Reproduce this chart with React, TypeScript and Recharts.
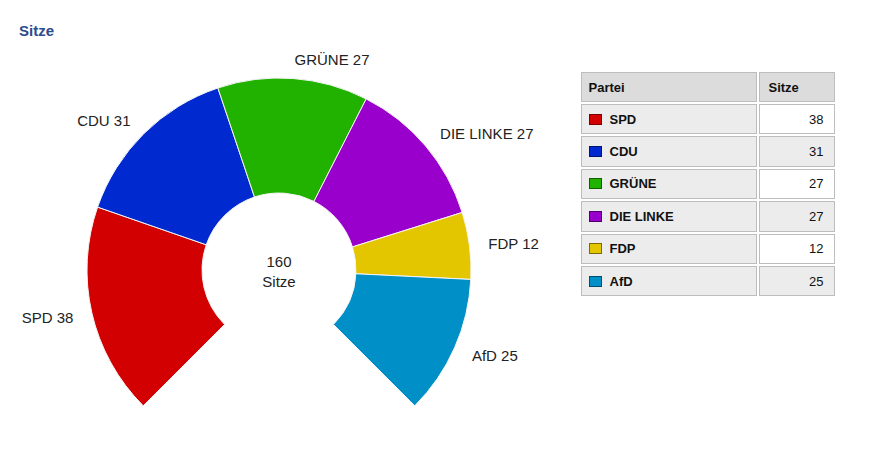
import React from 'react';
import { PieChart, Pie, Cell } from 'recharts';

const parties = ['SPD', 'CDU', 'GRÜNE', 'DIE LINKE', 'FDP', 'AfD'];
const seats = [38, 31, 27, 27, 12, 25];
const totalLabel = ['160', 'Sitze'];

const COLORS = ['#d20000', '#0029cf', '#21b200', '#9a00cc', '#e4c600', '#008fc6'];
const SWATCH_BORDERS = ['#7a0000', '#00156e', '#106000', '#50006b', '#7a6a00', '#004e6e'];

const FONT = "Arial, 'Liberation Sans', sans-serif";
const RADIAN = Math.PI / 180;

const CX = 279;
const CY = 270;

const data = parties.map((name, i) => ({ name, value: seats[i] }));

const renderLabel = (props: any) => {
  const { cx, cy, midAngle, name, value } = props;
  const r = 211;
  const cos = Math.cos(-midAngle * RADIAN);
  const sin = Math.sin(-midAngle * RADIAN);
  const x = cx + r * cos;
  const y = cy + r * sin;
  return (
    <text
      x={x}
      y={y}
      fill="#222"
      fontSize={15}
      fontFamily={FONT}
      textAnchor={cos >= 0 ? 'start' : 'end'}
      dominantBaseline="central"
    >
      {`${name} ${value}`}
    </text>
  );
};

const cellBase: React.CSSProperties = {
  boxSizing: 'border-box',
  border: '1px solid #bdbdbd',
  display: 'flex',
  alignItems: 'center',
  fontSize: 13,
  color: '#111',
};

export default function App() {
  return (
    <div style={{ position: 'absolute', left: 0, top: 0, width: 870, height: 450, background: '#fff', fontFamily: FONT }}>
      <div style={{ position: 'absolute', left: 19, top: 23, fontSize: 15, fontWeight: 'bold', color: '#2b4c8e', lineHeight: '16px' }}>
        Sitze
      </div>

      <div style={{ position: 'absolute', left: 0, top: 0 }}>
        <PieChart width={560} height={450} margin={{ top: 0, right: 0, bottom: 0, left: 0 }}>
          <Pie
            data={data}
            dataKey="value"
            nameKey="name"
            cx={CX}
            cy={CY}
            innerRadius={77}
            outerRadius={192}
            startAngle={225}
            endAngle={-45}
            stroke="#f4f4f4"
            strokeWidth={1}
            label={renderLabel}
            labelLine={false}
            isAnimationActive={false}
          >
            {data.map((entry, i) => (
              <Cell key={`cell-${entry.name}`} fill={COLORS[i]} />
            ))}
          </Pie>
        </PieChart>
      </div>

      {/* Summe in der Mitte */}
      <div
        style={{
          position: 'absolute',
          left: CX - 50,
          top: 252,
          width: 100,
          textAlign: 'center',
          fontSize: 15,
          lineHeight: '20px',
          color: '#222',
        }}
      >
        <div>{totalLabel[0]}</div>
        <div>{totalLabel[1]}</div>
      </div>

      <div
        style={{
          position: 'absolute',
          left: 580.5,
          top: 72,
          display: 'grid',
          gridTemplateColumns: '176px 76px',
          gridTemplateRows: '30px repeat(6, 30.4px)',
          gap: 2,
        }}
      >
        <div style={{ ...cellBase, background: '#dcdcdc', fontWeight: 'bold', paddingLeft: 7 }}>Partei</div>
        <div style={{ ...cellBase, background: '#dcdcdc', fontWeight: 'bold', paddingLeft: 9 }}>Sitze</div>
        {parties.map((p, i) => (
          <React.Fragment key={p}>
            <div style={{ ...cellBase, background: '#ececec', fontWeight: 'bold', paddingLeft: 7 }}>
              <span
                style={{
                  display: 'inline-block',
                  boxSizing: 'border-box',
                  width: 13,
                  height: 11,
                  background: COLORS[i],
                  border: `1px solid ${SWATCH_BORDERS[i]}`,
                  marginRight: 8,
                }}
              />
              {p}
            </div>
            <div
              style={{
                ...cellBase,
                background: i % 2 === 0 ? '#ffffff' : '#ececec',
                justifyContent: 'flex-end',
                paddingRight: 10,
              }}
            >
              {seats[i]}
            </div>
          </React.Fragment>
        ))}
      </div>
    </div>
  );
}
